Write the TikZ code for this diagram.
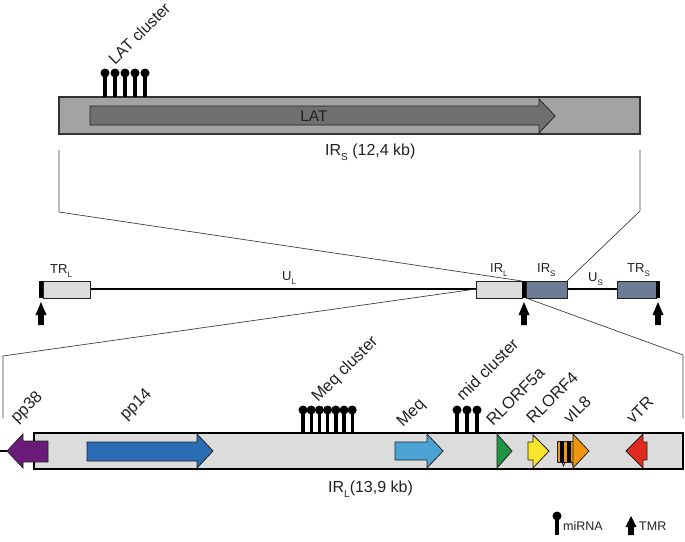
\documentclass[tikz,border=0pt]{standalone}
\usepackage{fontspec}
\setmainfont{Liberation Sans}
\definecolor{boxgray}{HTML}{A3A3A3}
\definecolor{latgray}{HTML}{707070}
\definecolor{lightbox}{HTML}{DCDCDC}
\definecolor{slate}{HTML}{6D7B96}
\definecolor{pp38col}{HTML}{6A1B7A}
\definecolor{pp14col}{HTML}{2A6DB5}
\definecolor{meqcol}{HTML}{4BA3D5}
\definecolor{rl5col}{HTML}{1D9545}
\definecolor{rl4col}{HTML}{F6E528}
\definecolor{vilcol}{HTML}{F0960E}
\definecolor{vtrcol}{HTML}{E02A1F}
\definecolor{inkcol}{HTML}{222222}
\newcommand\fsrot{\fontsize{16.5}{16.5}\selectfont}
\newcommand\fscap{\fontsize{16}{16}\selectfont}
\newcommand\fsmid{\fontsize{13}{13}\selectfont}
\newcommand\fsleg{\fontsize{12.5}{12.5}\selectfont}
\newcommand\sbsc[2]{\raisebox{-0.32em}{\fontsize{#1}{#1}\selectfont #2}}
\begin{document}
\begin{tikzpicture}[x=1pt,y=-1pt,
  zoomline/.style={draw=black!75,line width=0.7pt},
  genebox/.style={draw=inkcol,line width=0.8pt},
  stem/.style={line width=3.4pt,draw=black},
  ball/.style={fill=black},
  rotlab/.style={rotate=45,anchor=base west,inner sep=0pt,font=\fsrot,text=inkcol},
  caplab/.style={anchor=base west,inner sep=0pt,font=\fscap,text=inkcol},
  midlab/.style={anchor=base west,inner sep=0pt,font=\fsmid,text=inkcol},
  leglab/.style={anchor=base west,inner sep=0pt,font=\fsleg,text=inkcol},
  tmr/.style={fill=black}]
\useasboundingbox (0,0) rectangle (685,541);

% ---------- top: IRS ----------
\draw[fill=boxgray,draw=black!80,line width=1.5pt] (59,97) rectangle (640,134);
\draw[genebox,fill=latgray] (90,106) -- (539,106) -- (539,99) -- (555,116) -- (539,133) -- (539,125) -- (90,125) -- cycle;
\node[anchor=base,inner sep=0pt,font=\fontsize{15.5}{15.5}\selectfont,text=inkcol] (lat) at (314,121) {LAT};
\foreach \x in {105,115,125,135,145}{
  \draw[stem] (\x,74) -- (\x,97);
  \fill[ball] (\x,73) circle (4.5);
}
\node[rotlab,font=\fontsize{16}{16}\selectfont] (latcl) at (115,66) {LAT cluster};
\node[caplab] (irscap) at (325,155) {IR\sbsc{10}{S} (12,4 kb)};

% zoom lines top
\coordinate (tl) at (59,150);
\coordinate (tlc) at (59,212);
\coordinate (tr) at (640,150);
\coordinate (trc) at (640,211);
\coordinate (jtop) at (522,281);
\coordinate (irsTR) at (567,281);
\draw[zoomline] (tl) -- (tlc) -- (jtop);
\draw[zoomline] (tr) -- (trc) -- (irsTR);

% ---------- middle genome ----------
\draw[line width=1.5pt] (43,289) -- (476,289);
\draw[line width=1.5pt] (567,289) -- (617,289);
\draw[genebox,fill=lightbox] (43,281) rectangle (90,298);
\fill (39,281) rectangle (43,298);
\draw[genebox,fill=lightbox] (476,281) rectangle (522,298);
\fill (522,281) rectangle (526,298);
\draw[genebox,fill=slate] (526,281) rectangle (567,298);
\draw[genebox,fill=slate] (617,281) rectangle (656,298);
\fill (656,281) rectangle (660,298);

\foreach \x in {41,524,658}{
  \fill[tmr] (\x-2.8,325) -- (\x-2.8,315) -- (\x-5.5,315) -- (\x,302) -- (\x+5.5,315) -- (\x+2.8,315) -- (\x+2.8,325) -- cycle;
}

\node[midlab] (trl) at (50,273) {TR\sbsc{8}{L}};
\node[midlab] (ul) at (282,280) {U\sbsc{8}{L}};
\node[midlab] (irl) at (490,272) {IR\sbsc{8}{L}};
\node[midlab] (irs) at (537,272) {IR\sbsc{8}{S}};
\node[midlab] (us) at (588,281) {U\sbsc{8}{S}};
\node[midlab] (trs) at (627,272) {TR\sbsc{8}{S}};

% zoom lines bottom
\coordinate (irlL) at (476,289);
\coordinate (blc) at (3,356);
\coordinate (bl) at (3,418);
\coordinate (jbot) at (526,298);
\coordinate (brc) at (683,355);
\coordinate (br) at (683,418);
\draw[zoomline] (irlL) -- (blc) -- (bl);
\draw[zoomline] (jbot) -- (brc) -- (br);

% ---------- bottom: IRL ----------
\draw[fill=lightbox,draw=black,line width=1.8pt] (34,433) rectangle (683,469);
\draw[line width=1.5pt] (0,451) -- (7,451);
\draw[genebox,fill=pp38col] (48,441) -- (23,441) -- (23,434) -- (7,451) -- (23,468) -- (23,462) -- (48,462) -- cycle;
\draw[genebox,fill=pp14col] (87,442) -- (197,442) -- (197,434) -- (213,451) -- (197,468) -- (197,461) -- (87,461) -- cycle;
\draw[genebox,fill=meqcol] (395,442) -- (427,442) -- (427,434) -- (443,451) -- (427,468) -- (427,460) -- (395,460) -- cycle;
\draw[genebox,fill=rl5col] (497,434) -- (512,451) -- (497,468) -- cycle;
\draw[genebox,fill=rl4col] (528,442) -- (533,442) -- (533,435) -- (549,451) -- (533,468) -- (533,460) -- (528,460) -- cycle;
\draw[genebox,fill=vilcol] (557,441) rectangle (573,462);
\fill (560,441) rectangle (563.5,462);
\fill (567,441) rectangle (570.5,462);
\draw[line width=0.6pt] (562,462) -- (563.5,466) -- (565,462);
\draw[line width=0.6pt] (571.5,462) -- (573,466);
\draw[genebox,fill=vilcol] (573,434) -- (589,451) -- (573,468) -- cycle;
\draw[genebox,fill=vtrcol] (647,442) -- (643,442) -- (643,434) -- (626,451) -- (643,468) -- (643,460) -- (647,460) -- cycle;

\foreach \x in {303,311.2,319.4,327.6,335.8,344,352.2,457,467,477}{
  \draw[stem] (\x,411) -- (\x,433);
  \fill[ball] (\x,410) circle (4.5);
}

\node[rotlab] (pp38) at (17,424) {pp38};
\node[rotlab] (pp14) at (126,421) {pp14};
\node[rotlab] (meqcl) at (318,403) {Meq cluster};
\node[rotlab] (meq) at (403,428) {Meq};
\node[rotlab] (midcl) at (463,402) {mid cluster};
\node[rotlab] (rl5) at (493,427) {RLORF5a};
\node[rotlab] (rl4) at (533,425) {RLORF4};
\node[rotlab] (vil8) at (570,425) {vIL8};
\node[rotlab] (vtr) at (633,425) {vTR};
\node[caplab] (irlcap) at (328,492) {IR\sbsc{10}{L}(13,9 kb)};

% ---------- legend ----------
\draw[stem] (557,517) -- (557,535);
\fill[ball] (557,516) circle (4.5);
\node[leglab] (mirna) at (563,530) {miRNA};
\fill[tmr] (628.2,535) -- (628.2,527) -- (625.5,527) -- (631,516) -- (636.5,527) -- (633.8,527) -- (633.8,535) -- cycle;
\node[leglab] (tmrl) at (639,530) {TMR};
\end{tikzpicture}
\end{document}
